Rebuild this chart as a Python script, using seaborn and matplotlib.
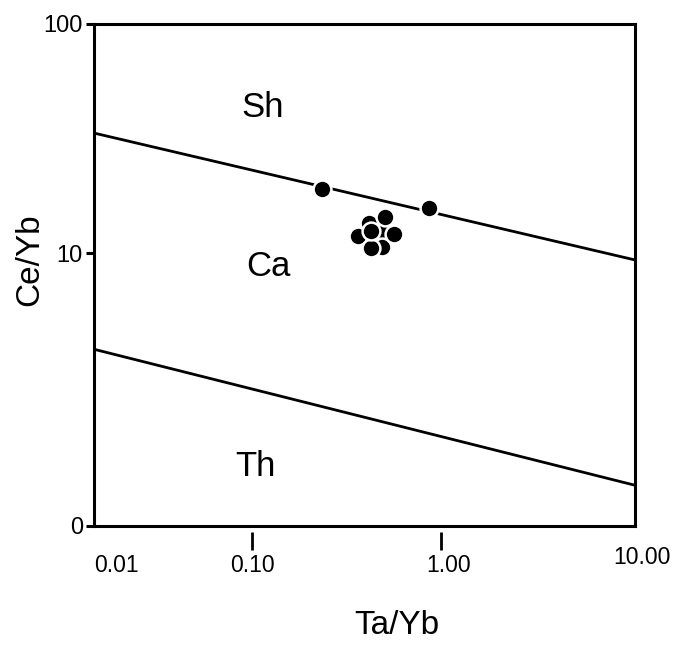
import numpy as np
import pandas as pd
import matplotlib
matplotlib.use("Agg")
import matplotlib.pyplot as plt
from matplotlib.path import Path
from matplotlib.transforms import ScaledTranslation
import seaborn as sns

# ---------------- data ----------------
# boundary lines (x, y) at the plot edges
upper_x = [0.01, 10.0]
upper_y = [33.4, 9.43]
lower_x = [0.01, 10.0]
lower_y = [4.44, 1.41]

# sample points (Ta/Yb, Ce/Yb)
ta_yb = [0.414, 0.490, 0.490, 0.235, 0.867, 0.504, 0.363, 0.565, 0.425, 0.428]
ce_yb = [13.5, 12.4, 10.6, 19.0, 15.8, 14.4, 11.9, 12.1, 10.5, 12.5]

region_names = ["Sh", "Ca", "Th"]
region_x = [0.113, 0.122, 0.104]
region_y = [43.0, 8.9, 1.65]

x_ticks = [0.01, 0.1, 1.0, 10.0]
x_tick_labels = ["0.01", "0.10", "1.00", "10.00"]
y_ticks = [1, 10, 100]
y_tick_labels = ["0", "10", "100"]

# ---------------- scale (decade spacing as in the original drawing) ----------------
X_LOG = [-2.0, -1.0, 0.0, 1.0]
X_FRAC = [0.0, 158 / 540, 346 / 540, 1.0]
Y_LOG = [0.0, 1.0, 2.0]
Y_FRAC = [0.0, 273 / 502, 1.0]


def piecewise(t, xp, fp):
    t = np.asarray(t, float)
    xp = np.asarray(xp, float)
    fp = np.asarray(fp, float)
    out = np.interp(t, xp, fp)
    lo_slope = (fp[1] - fp[0]) / (xp[1] - xp[0])
    hi_slope = (fp[-1] - fp[-2]) / (xp[-1] - xp[-2])
    out = np.where(t < xp[0], fp[0] + (t - xp[0]) * lo_slope, out)
    out = np.where(t > xp[-1], fp[-1] + (t - xp[-1]) * hi_slope, out)
    return out


def make_funcs(logs, fracs):
    def fwd(v):
        v = np.asarray(v, float)
        with np.errstate(divide="ignore", invalid="ignore"):
            lv = np.log10(np.where(v > 0, v, 1e-300))
        return piecewise(lv, logs, fracs)

    def inv(u):
        return 10.0 ** piecewise(u, fracs, logs)

    return fwd, inv


sns.set_theme(style="white")
plt.rcParams["font.family"] = ["Liberation Sans", "DejaVu Sans"]
plt.rcParams["text.color"] = "black"
plt.rcParams["axes.labelcolor"] = "black"
plt.rcParams["xtick.color"] = "black"
plt.rcParams["ytick.color"] = "black"

fig = plt.figure(figsize=(6.77, 6.46), dpi=100)
ax = fig.add_axes([94 / 677, 120 / 646, 541 / 677, 502 / 646])

ax.set_xscale("function", functions=make_funcs(X_LOG, X_FRAC))
ax.set_yscale("function", functions=make_funcs(Y_LOG, Y_FRAC))

# boundary lines
lines_df = pd.DataFrame({
    "x": upper_x + lower_x,
    "y": upper_y + lower_y,
    "line": ["upper"] * len(upper_x) + ["lower"] * len(lower_x),
})
sns.lineplot(data=lines_df, x="x", y="y", units="line", estimator=None, sort=False,
             color="black", linewidth=2.0, ax=ax, zorder=2)

# points
pts = pd.DataFrame({"Ta/Yb": ta_yb, "Ce/Yb": ce_yb})
sns.scatterplot(data=pts, x="Ta/Yb", y="Ce/Yb", s=165, color="black",
                edgecolor="white", linewidth=1.8, ax=ax, zorder=3, legend=False)

for name, rx, ry in zip(region_names, region_x, region_y):
    ax.text(rx, ry, name, fontsize=25, ha="center", va="center", color="black")

ax.set_xlim(0.01, 10.0)
ax.set_ylim(1, 100)
ax.margins(0)

for sp in ax.spines.values():
    sp.set_visible(True)
    sp.set_color("black")
    sp.set_linewidth(2.2)

ax.set_xticks(x_ticks)
ax.set_xticklabels(x_tick_labels)
ax.set_yticks(y_ticks)
ax.set_yticklabels(y_tick_labels)
ax.xaxis.set_minor_locator(matplotlib.ticker.NullLocator())
ax.yaxis.set_minor_locator(matplotlib.ticker.NullLocator())

ax.tick_params(axis="y", direction="out", length=6, width=2.2, pad=2,
               labelsize=17, color="black", labelcolor="black", left=True)
ax.tick_params(axis="x", direction="out", length=17.3, width=2.0, pad=2.5,
               labelsize=16.5, color="black", labelcolor="black", bottom=True)

# x tick marks detached from the axis line
gap_marker = Path([[0, -0.25], [0, -1.0]])
xt = ax.xaxis.get_major_ticks()
for i, t in enumerate(xt):
    t.tick1line.set_marker(gap_marker)
    t.tick1line.set_markersize(34.6)
    if i in (0, len(xt) - 1):
        t.tick1line.set_visible(False)

# tick label fine placement
labs = ax.get_xticklabels()
labs[0].set_horizontalalignment("left")
labs[2].set_transform(labs[2].get_transform() + ScaledTranslation(0.08, 0, fig.dpi_scale_trans))
labs[3].set_transform(labs[3].get_transform() + ScaledTranslation(0.07, 0.07, fig.dpi_scale_trans))

ax.set_xlabel("Ta/Yb", fontsize=24, color="black")
ax.set_ylabel("Ce/Yb", fontsize=24, color="black")
ax.xaxis.set_label_coords(0.56, -0.199)
ax.xaxis.label.set_va("center")
ax.yaxis.set_label_coords(-0.118, 0.53)
ax.yaxis.label.set_va("center")

ax.grid(False)
fig.savefig("out.png", dpi=100, facecolor="white")
